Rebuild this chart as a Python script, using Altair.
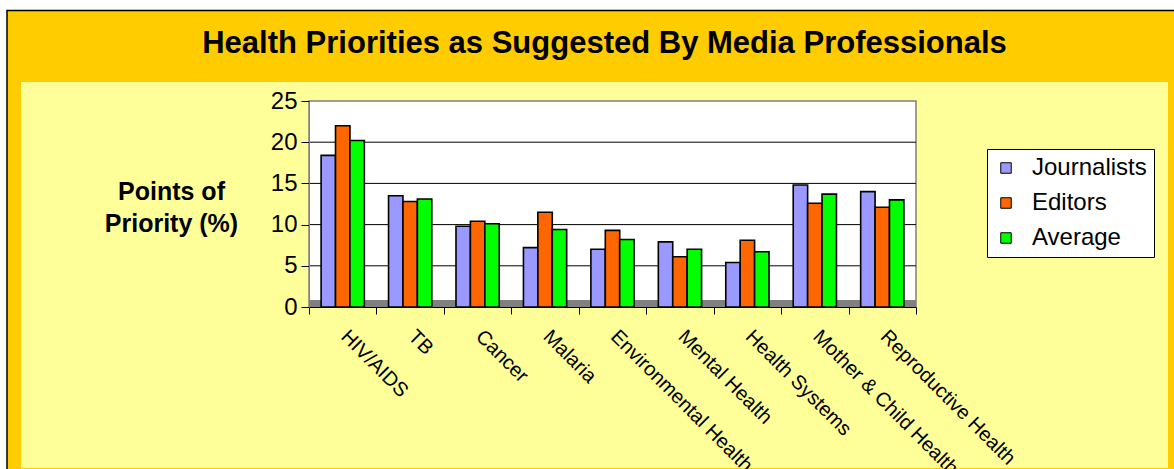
import altair as alt
import pandas as pd

categories = ["HIV/AIDS", "TB", "Cancer", "Malaria", "Environmental Health",
              "Mental Health", "Health Systems", "Mother & Child Health", "Reproductive Health"]
series = ["Journalists", "Editors", "Average"]
journalists = [18.4, 13.5, 9.8, 7.2, 7.0, 7.9, 5.4, 14.8, 14.0]
editors = [22.0, 12.8, 10.4, 11.5, 9.3, 6.1, 8.1, 12.6, 12.1]
average = [20.2, 13.1, 10.1, 9.4, 8.2, 7.0, 6.7, 13.7, 13.0]
colors = ["#9999FF", "#FF6600", "#00FF00"]
y_ticks = [0, 5, 10, 15, 20, 25]
grid_values = [5, 10, 15, 20]

rows = []
for s, vals in zip(series, [journalists, editors, average]):
    for c, v in zip(categories, vals):
        rows.append({"Category": c, "Series": s, "Value": v})
df = pd.DataFrame(rows)
grid_df = pd.DataFrame({"v": grid_values})
one = pd.DataFrame({"k": [0]})

W, H = 607, 206
LEFT, TOP = 309, 101
FONT = "Liberation Sans"

yscale = alt.Scale(domain=[0, 25])
yaxis = alt.Axis(values=y_ticks, title=["Points of", "Priority (%)"],
                 titleFont=FONT, titleFontSize=25, titleFontWeight="bold",
                 titleColor="#000000", titleAngle=0, titleAlign="center",
                 titleBaseline="alphabetic", titleX=171 - LEFT, titleY=199 - TOP,
                 titleLineHeight=32,
                 labelFont=FONT, labelFontSize=24, labelColor="#000000",
                 labelPadding=4, tickSize=8, tickColor="#000000",
                 domainColor="#808080", grid=False, zindex=2)

outer = alt.Chart(one).mark_rect(fill="#FFCC00", stroke="#000000", strokeWidth=1.5, clip=False).encode(
    x=alt.value(7 - LEFT), x2=alt.value(1190 - LEFT), y=alt.value(10.5 - TOP), y2=alt.value(490 - TOP))
panel = alt.Chart(one).mark_rect(fill="#FFFF99", clip=False).encode(
    x=alt.value(21 - LEFT), x2=alt.value(1168 - LEFT), y=alt.value(82 - TOP), y2=alt.value(468 - TOP))
wall = alt.Chart(one).mark_rect(fill="#FFFFFF", stroke="#808080", strokeWidth=1.5).encode(
    x=alt.value(0), x2=alt.value(W), y=alt.value(0), y2=alt.value(H))
floor = alt.Chart(one).mark_rect(fill="#808080").encode(
    x=alt.value(0), x2=alt.value(W), y=alt.value(H - 7), y2=alt.value(H))
grid = alt.Chart(grid_df).mark_rule(color="#000000", strokeWidth=1).encode(
    y=alt.Y("v:Q", scale=yscale, axis=yaxis), x=alt.value(0), x2=alt.value(W))

bars = alt.Chart(df).mark_bar(stroke="#000000", strokeWidth=1.6).encode(
    x=alt.X("Category:N", sort=categories,
            scale=alt.Scale(paddingInner=0, paddingOuter=0),
            axis=alt.Axis(title=None, labelAngle=45, labelAlign="left", labelBaseline="top",
                          labelFont=FONT, labelFontSize=20, labelColor="#000000",
                          labelPadding=12, labelOffset=8, labelLimit=0,
                          tickBand="extent", tickSize=7, tickColor="#000000",
                          domainColor="#000000", grid=False, zindex=2)),
    xOffset=alt.XOffset("Series:N", sort=series,
                        scale=alt.Scale(paddingInner=0, paddingOuter=0.84)),
    y=alt.Y("Value:Q", scale=yscale, axis=yaxis),
    color=alt.Color("Series:N", scale=alt.Scale(domain=series, range=colors),
                    legend=alt.Legend(title=None, orient="none", legendX=678, legendY=48,
                                      direction="vertical", fillColor="#FFFFFF",
                                      strokeColor="#000000", padding=7,
                                      labelFont=FONT, labelFontSize=24, labelColor="#000000",
                                      symbolType="square", symbolSize=110,
                                      symbolStrokeColor="#000000", symbolStrokeWidth=1,
                                      rowPadding=11, labelOffset=14)),
)

chart = alt.layer(outer, panel, wall, floor, grid, bars).properties(
    width=W, height=H,
    title=alt.TitleParams("Health Priorities as Suggested By Media Professionals",
                          font=FONT, fontSize=31, fontWeight="bold", color="#000000",
                          anchor="middle", frame="group", dx=-8, offset=-74,
                          baseline="alphabetic"),
    autosize=alt.AutoSizeParams(type="none"),
    padding={"left": LEFT, "top": TOP, "right": 1174 - LEFT - W, "bottom": 469 - TOP - H},
    background="#FFFFFF",
).configure_view(strokeWidth=0)

chart.save("out.html", embed_options={"renderer": "svg", "actions": False})
